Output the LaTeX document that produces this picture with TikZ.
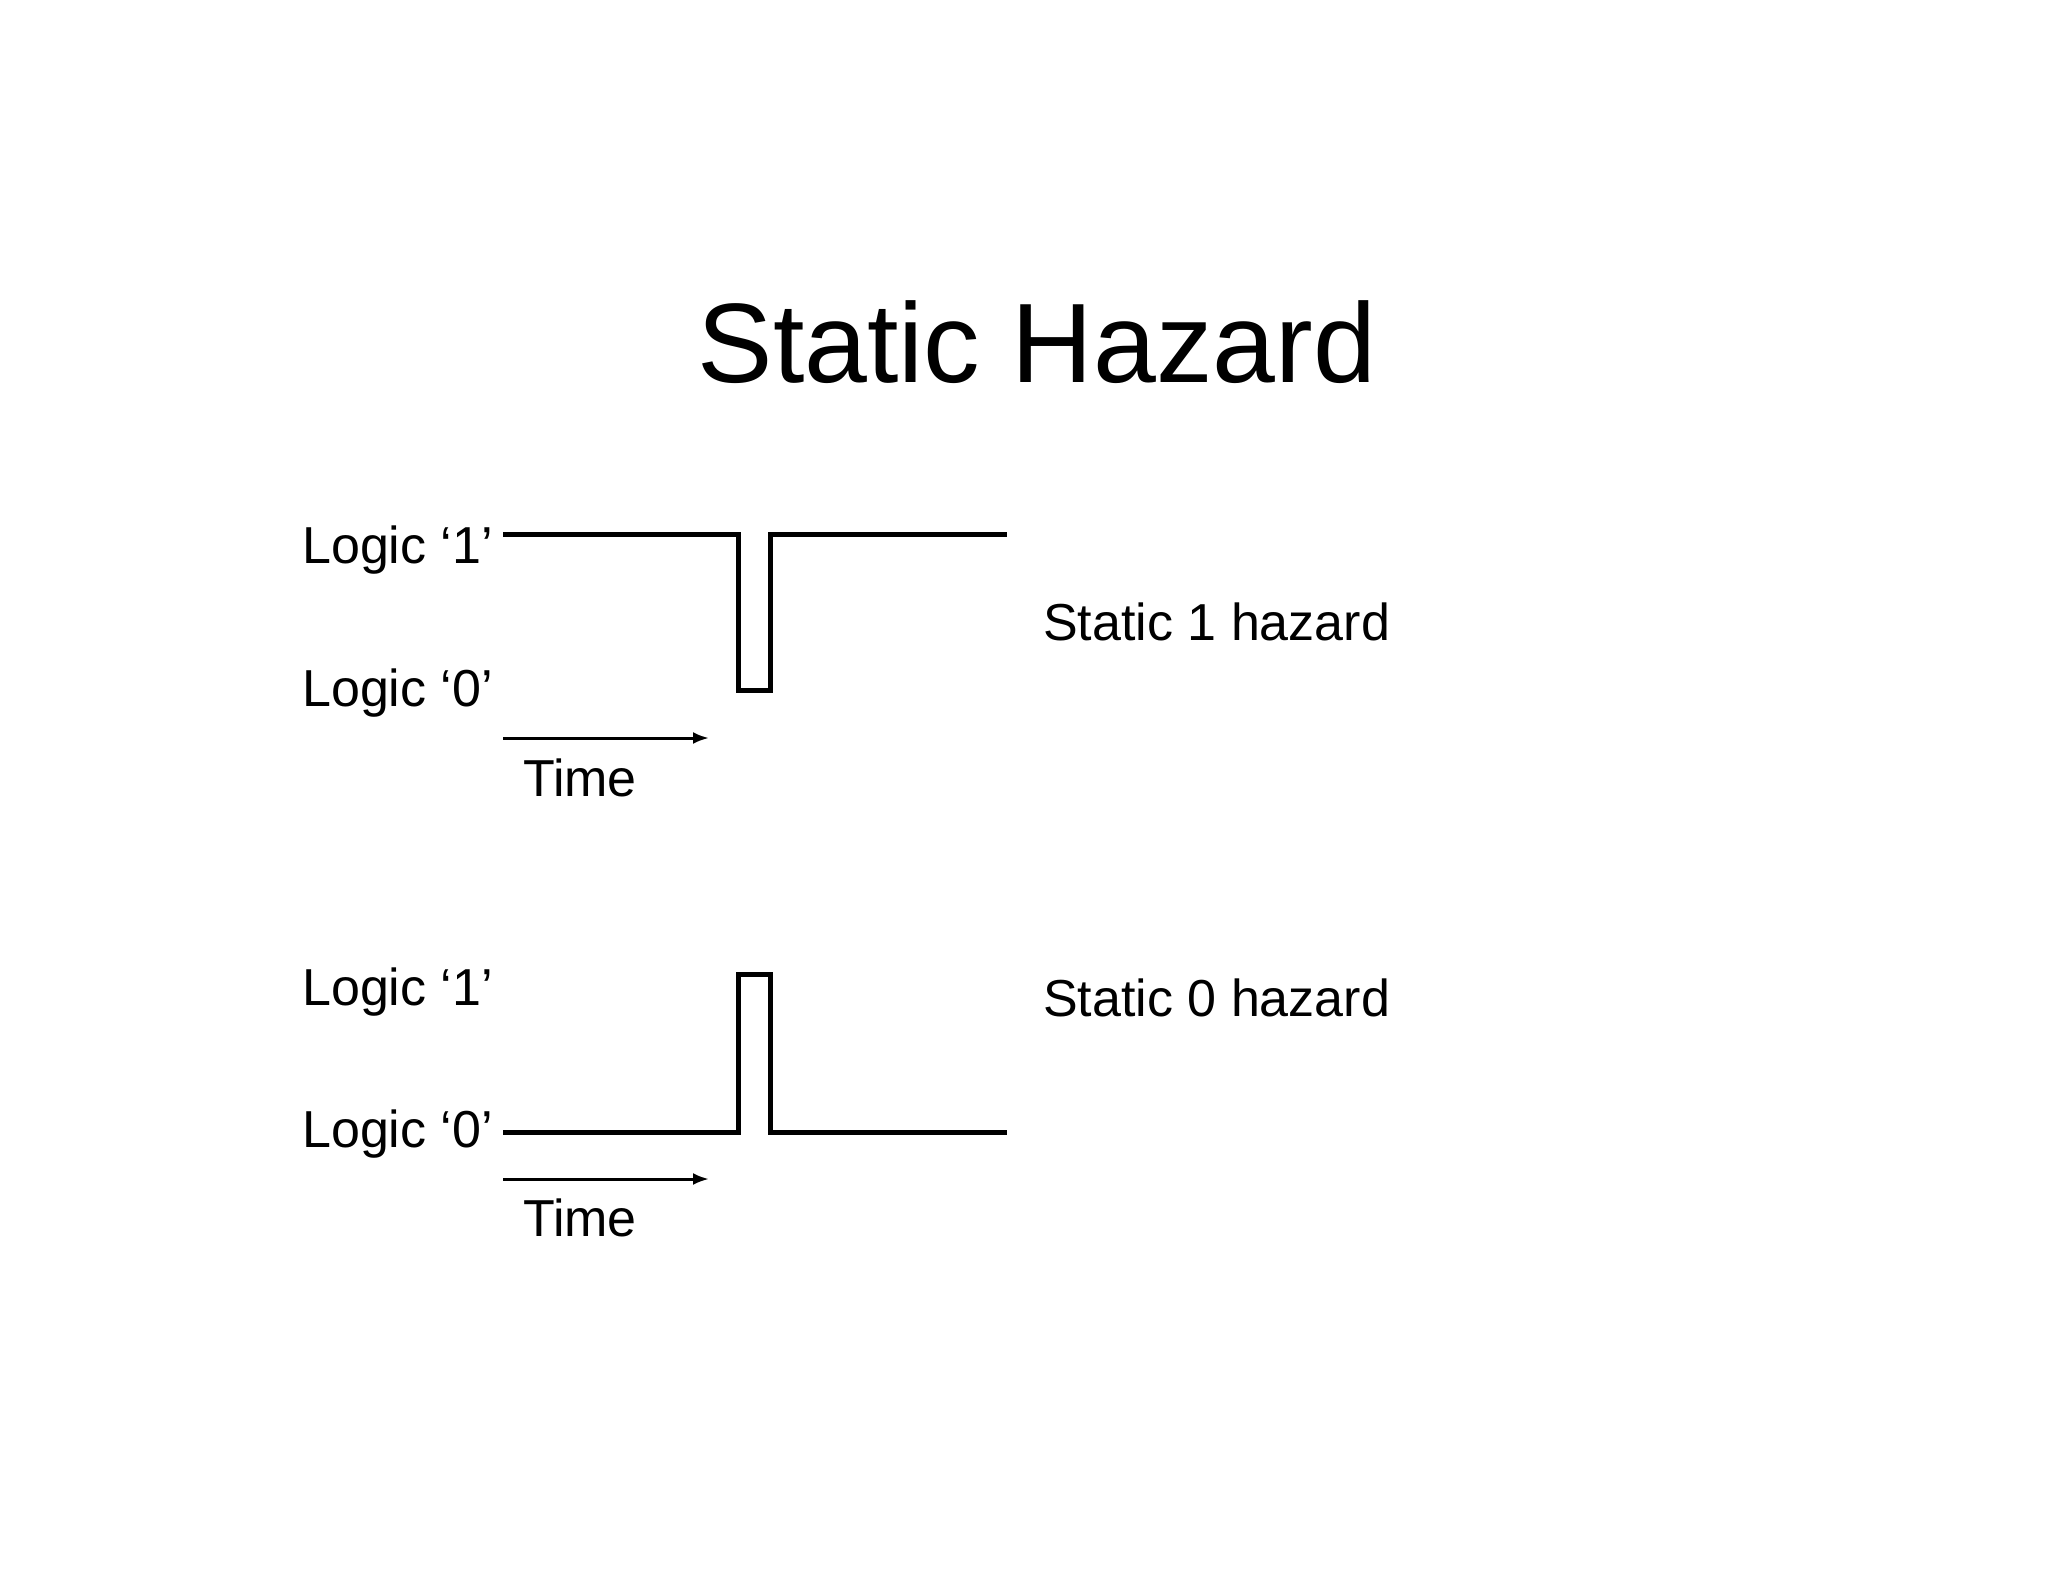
\documentclass[tikz,border=0pt]{standalone}
\usepackage{fontspec}
\setmainfont{Liberation Sans}
\usetikzlibrary{arrows.meta}
\begin{document}
\begin{tikzpicture}[x=1pt,y=-1pt,
  lbl/.style={anchor=base west,inner sep=0pt,font=\fontsize{52}{62}\selectfont},
  sig/.style={line width=5pt},
  tarr/.style={line width=3pt,-{Latex[length=16pt,width=12pt]}}]
\useasboundingbox (0,0) rectangle (2048,1582);
\node[anchor=base,inner sep=0pt,font=\fontsize{113}{130}\selectfont] (title) at (1037,382) {Static Hazard};
% upper
\node[lbl] (l1a) at (302,563) {Logic ‘1’};
\node[lbl] (l0a) at (302,706) {Logic ‘0’};
\coordinate (a0) at (503,534);
\coordinate (a1) at (1007,534);
\draw[sig] (a0) -- (738,534) -- (738,690) -- (770,690) -- (770,534) -- (a1);
\coordinate (ta0) at (503,738);
\coordinate (ta1) at (709,738);
\draw[tarr] (ta0) -- (ta1);
\node[lbl] (tma) at (523,796) {Time};
\node[lbl] (s1) at (1043,640) {Static 1 hazard};
% lower
\node[lbl] (l1b) at (302,1005) {Logic ‘1’};
\node[lbl] (l0b) at (302,1147) {Logic ‘0’};
\coordinate (b0) at (503,1132);
\coordinate (b1) at (1007,1132);
\draw[sig] (b0) -- (738,1132) -- (738,974) -- (770,974) -- (770,1132) -- (b1);
\coordinate (tb0) at (503,1179);
\coordinate (tb1) at (709,1179);
\draw[tarr] (tb0) -- (tb1);
\node[lbl] (tmb) at (523,1236) {Time};
\node[lbl] (s0) at (1043,1016) {Static 0 hazard};
\end{tikzpicture}
\end{document}
